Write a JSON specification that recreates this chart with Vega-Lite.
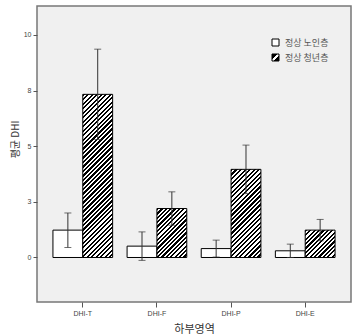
{
  "$schema": "https://vega.github.io/schema/vega-lite/v6.json",
  "autosize": "none",
  "width": 314,
  "height": 296,
  "padding": {"left": 37, "top": 6, "right": 5, "bottom": 34},
  "background": "white",
  "config": {
    "view": {"stroke": "#777", "strokeWidth": 1.5, "fill": "#f0f0f0"},
    "font": "Liberation Sans"
  },
  "data": {"values": [
    {"area": "DHI-T", "group": "정상 노인층", "mean": 1.23, "lo": 0.45, "hi": 2.0},
    {"area": "DHI-T", "group": "정상 청년층", "mean": 7.33, "lo": 5.3, "hi": 9.36},
    {"area": "DHI-F", "group": "정상 노인층", "mean": 0.51, "lo": -0.13, "hi": 1.15},
    {"area": "DHI-F", "group": "정상 청년층", "mean": 2.2, "lo": 1.45, "hi": 2.95},
    {"area": "DHI-P", "group": "정상 노인층", "mean": 0.4, "lo": 0.02, "hi": 0.78},
    {"area": "DHI-P", "group": "정상 청년층", "mean": 3.96, "lo": 2.87, "hi": 5.05},
    {"area": "DHI-E", "group": "정상 노인층", "mean": 0.3, "lo": 0.0, "hi": 0.6},
    {"area": "DHI-E", "group": "정상 청년층", "mean": 1.23, "lo": 0.75, "hi": 1.71}
  ]},
  "encoding": {
    "x": {
      "field": "area", "type": "nominal",
      "sort": ["DHI-T", "DHI-F", "DHI-P", "DHI-E"],
      "scale": {"paddingInner": 0.195, "paddingOuter": 0.215},
      "axis": {
        "labelAngle": 0, "domain": false, "grid": false,
        "tickSize": 5, "tickColor": "#555", "labelFontSize": 7, "labelColor": "#444", "labelPadding": 2,
        "title": "하부영역", "titleFont": "Noto Sans CJK KR", "titleFontSize": 11, "titleFontWeight": "normal",
        "titleColor": "#333", "titleY": 27, "titleBaseline": "middle"
      }
    },
    "xOffset": {
      "field": "group", "type": "nominal",
      "sort": ["정상 노인층", "정상 청년층"],
      "scale": {"paddingInner": 0, "paddingOuter": 0}
    }
  },
  "layer": [
    {
      "mark": {"type": "bar", "stroke": "#000", "strokeWidth": 1},
      "encoding": {
        "y": {
          "field": "mean", "type": "quantitative", "title": "평균 DHI",
          "scale": {"domain": [-2, 11.3], "nice": false, "zero": false},
          "axis": {
            "values": [0, 2.5, 5, 7.5, 10], "format": ".0f", "domain": false, "grid": false,
            "tickSize": 4, "tickColor": "#555", "labelFontSize": 7, "labelColor": "#444", "labelPadding": 2,
            "titleFont": "Noto Sans CJK KR", "titleFontSize": 10, "titleFontWeight": "normal",
            "titleColor": "#333", "titleX": -22, "titleY": 133, "titleBaseline": "middle"
          }
        },
        "y2": {"datum": 0},
        "fill": {
          "field": "group", "type": "nominal",
          "scale": {
            "domain": ["정상 노인층", "정상 청년층"],
            "range": ["#ffffff", "url(#hatchlegend)"]
          },
          "legend": {
            "orient": "none", "legendX": 234, "legendY": 32, "title": null, "padding": 0,
            "labelFont": "Noto Sans CJK KR", "labelFontSize": 9, "labelColor": "#555", "labelOffset": 5,
            "symbolType": "square", "symbolSize": 49, "symbolStrokeColor": "#000", "symbolStrokeWidth": 1,
            "rowPadding": 4
          },
          "condition": [
            {"test": "datum.group === '정상 청년층' && datum.area === 'DHI-T'",
             "value": {"gradient": "linear", "x1": 0, "y1": 0, "x2": 0.2094, "y2": 1.1446, "stops": [
              {"offset":0,"color":"#000"},
              {"offset":0.0116,"color":"#000"},{"offset":0.0116,"color":"#fff"},
              {"offset":0.0233,"color":"#fff"},{"offset":0.0233,"color":"#000"},
              {"offset":0.0349,"color":"#000"},{"offset":0.0349,"color":"#fff"},
              {"offset":0.0465,"color":"#fff"},{"offset":0.0465,"color":"#000"},
              {"offset":0.0581,"color":"#000"},{"offset":0.0581,"color":"#fff"},
              {"offset":0.0698,"color":"#fff"},{"offset":0.0698,"color":"#000"},
              {"offset":0.0814,"color":"#000"},{"offset":0.0814,"color":"#fff"},
              {"offset":0.0930,"color":"#fff"},{"offset":0.0930,"color":"#000"},
              {"offset":0.1047,"color":"#000"},{"offset":0.1047,"color":"#fff"},
              {"offset":0.1163,"color":"#fff"},{"offset":0.1163,"color":"#000"},
              {"offset":0.1279,"color":"#000"},{"offset":0.1279,"color":"#fff"},
              {"offset":0.1395,"color":"#fff"},{"offset":0.1395,"color":"#000"},
              {"offset":0.1512,"color":"#000"},{"offset":0.1512,"color":"#fff"},
              {"offset":0.1628,"color":"#fff"},{"offset":0.1628,"color":"#000"},
              {"offset":0.1744,"color":"#000"},{"offset":0.1744,"color":"#fff"},
              {"offset":0.1860,"color":"#fff"},{"offset":0.1860,"color":"#000"},
              {"offset":0.1977,"color":"#000"},{"offset":0.1977,"color":"#fff"},
              {"offset":0.2093,"color":"#fff"},{"offset":0.2093,"color":"#000"},
              {"offset":0.2209,"color":"#000"},{"offset":0.2209,"color":"#fff"},
              {"offset":0.2326,"color":"#fff"},{"offset":0.2326,"color":"#000"},
              {"offset":0.2442,"color":"#000"},{"offset":0.2442,"color":"#fff"},
              {"offset":0.2558,"color":"#fff"},{"offset":0.2558,"color":"#000"},
              {"offset":0.2674,"color":"#000"},{"offset":0.2674,"color":"#fff"},
              {"offset":0.2791,"color":"#fff"},{"offset":0.2791,"color":"#000"},
              {"offset":0.2907,"color":"#000"},{"offset":0.2907,"color":"#fff"},
              {"offset":0.3023,"color":"#fff"},{"offset":0.3023,"color":"#000"},
              {"offset":0.3140,"color":"#000"},{"offset":0.3140,"color":"#fff"},
              {"offset":0.3256,"color":"#fff"},{"offset":0.3256,"color":"#000"},
              {"offset":0.3372,"color":"#000"},{"offset":0.3372,"color":"#fff"},
              {"offset":0.3488,"color":"#fff"},{"offset":0.3488,"color":"#000"},
              {"offset":0.3605,"color":"#000"},{"offset":0.3605,"color":"#fff"},
              {"offset":0.3721,"color":"#fff"},{"offset":0.3721,"color":"#000"},
              {"offset":0.3837,"color":"#000"},{"offset":0.3837,"color":"#fff"},
              {"offset":0.3953,"color":"#fff"},{"offset":0.3953,"color":"#000"},
              {"offset":0.4070,"color":"#000"},{"offset":0.4070,"color":"#fff"},
              {"offset":0.4186,"color":"#fff"},{"offset":0.4186,"color":"#000"},
              {"offset":0.4302,"color":"#000"},{"offset":0.4302,"color":"#fff"},
              {"offset":0.4419,"color":"#fff"},{"offset":0.4419,"color":"#000"},
              {"offset":0.4535,"color":"#000"},{"offset":0.4535,"color":"#fff"},
              {"offset":0.4651,"color":"#fff"},{"offset":0.4651,"color":"#000"},
              {"offset":0.4767,"color":"#000"},{"offset":0.4767,"color":"#fff"},
              {"offset":0.4884,"color":"#fff"},{"offset":0.4884,"color":"#000"},
              {"offset":0.5000,"color":"#000"},{"offset":0.5000,"color":"#fff"},
              {"offset":0.5116,"color":"#fff"},{"offset":0.5116,"color":"#000"},
              {"offset":0.5233,"color":"#000"},{"offset":0.5233,"color":"#fff"},
              {"offset":0.5349,"color":"#fff"},{"offset":0.5349,"color":"#000"},
              {"offset":0.5465,"color":"#000"},{"offset":0.5465,"color":"#fff"},
              {"offset":0.5581,"color":"#fff"},{"offset":0.5581,"color":"#000"},
              {"offset":0.5698,"color":"#000"},{"offset":0.5698,"color":"#fff"},
              {"offset":0.5814,"color":"#fff"},{"offset":0.5814,"color":"#000"},
              {"offset":0.5930,"color":"#000"},{"offset":0.5930,"color":"#fff"},
              {"offset":0.6047,"color":"#fff"},{"offset":0.6047,"color":"#000"},
              {"offset":0.6163,"color":"#000"},{"offset":0.6163,"color":"#fff"},
              {"offset":0.6279,"color":"#fff"},{"offset":0.6279,"color":"#000"},
              {"offset":0.6395,"color":"#000"},{"offset":0.6395,"color":"#fff"},
              {"offset":0.6512,"color":"#fff"},{"offset":0.6512,"color":"#000"},
              {"offset":0.6628,"color":"#000"},{"offset":0.6628,"color":"#fff"},
              {"offset":0.6744,"color":"#fff"},{"offset":0.6744,"color":"#000"},
              {"offset":0.6860,"color":"#000"},{"offset":0.6860,"color":"#fff"},
              {"offset":0.6977,"color":"#fff"},{"offset":0.6977,"color":"#000"},
              {"offset":0.7093,"color":"#000"},{"offset":0.7093,"color":"#fff"},
              {"offset":0.7209,"color":"#fff"},{"offset":0.7209,"color":"#000"},
              {"offset":0.7326,"color":"#000"},{"offset":0.7326,"color":"#fff"},
              {"offset":0.7442,"color":"#fff"},{"offset":0.7442,"color":"#000"},
              {"offset":0.7558,"color":"#000"},{"offset":0.7558,"color":"#fff"},
              {"offset":0.7674,"color":"#fff"},{"offset":0.7674,"color":"#000"},
              {"offset":0.7791,"color":"#000"},{"offset":0.7791,"color":"#fff"},
              {"offset":0.7907,"color":"#fff"},{"offset":0.7907,"color":"#000"},
              {"offset":0.8023,"color":"#000"},{"offset":0.8023,"color":"#fff"},
              {"offset":0.8140,"color":"#fff"},{"offset":0.8140,"color":"#000"},
              {"offset":0.8256,"color":"#000"},{"offset":0.8256,"color":"#fff"},
              {"offset":0.8372,"color":"#fff"},{"offset":0.8372,"color":"#000"},
              {"offset":0.8488,"color":"#000"},{"offset":0.8488,"color":"#fff"},
              {"offset":0.8605,"color":"#fff"},{"offset":0.8605,"color":"#000"},
              {"offset":0.8721,"color":"#000"},{"offset":0.8721,"color":"#fff"},
              {"offset":0.8837,"color":"#fff"},{"offset":0.8837,"color":"#000"},
              {"offset":0.8953,"color":"#000"},{"offset":0.8953,"color":"#fff"},
              {"offset":0.9070,"color":"#fff"},{"offset":0.9070,"color":"#000"},
              {"offset":0.9186,"color":"#000"},{"offset":0.9186,"color":"#fff"},
              {"offset":0.9302,"color":"#fff"},{"offset":0.9302,"color":"#000"},
              {"offset":0.9419,"color":"#000"},{"offset":0.9419,"color":"#fff"},
              {"offset":0.9535,"color":"#fff"},{"offset":0.9535,"color":"#000"},
              {"offset":0.9651,"color":"#000"},{"offset":0.9651,"color":"#fff"},
              {"offset":0.9767,"color":"#fff"},{"offset":0.9767,"color":"#000"},
              {"offset":0.9884,"color":"#000"},{"offset":0.9884,"color":"#fff"},
              {"offset":1,"color":"#fff"}]}},
            {"test": "datum.group === '정상 청년층' && datum.area === 'DHI-F'",
             "value": {"gradient": "linear", "x1": 0, "y1": 0, "x2": 0.7153, "y2": 1.1735, "stops": [
              {"offset":0,"color":"#000"},
              {"offset":0.0278,"color":"#000"},{"offset":0.0278,"color":"#fff"},
              {"offset":0.0556,"color":"#fff"},{"offset":0.0556,"color":"#000"},
              {"offset":0.0833,"color":"#000"},{"offset":0.0833,"color":"#fff"},
              {"offset":0.1111,"color":"#fff"},{"offset":0.1111,"color":"#000"},
              {"offset":0.1389,"color":"#000"},{"offset":0.1389,"color":"#fff"},
              {"offset":0.1667,"color":"#fff"},{"offset":0.1667,"color":"#000"},
              {"offset":0.1944,"color":"#000"},{"offset":0.1944,"color":"#fff"},
              {"offset":0.2222,"color":"#fff"},{"offset":0.2222,"color":"#000"},
              {"offset":0.25,"color":"#000"},{"offset":0.25,"color":"#fff"},
              {"offset":0.2778,"color":"#fff"},{"offset":0.2778,"color":"#000"},
              {"offset":0.3056,"color":"#000"},{"offset":0.3056,"color":"#fff"},
              {"offset":0.3333,"color":"#fff"},{"offset":0.3333,"color":"#000"},
              {"offset":0.3611,"color":"#000"},{"offset":0.3611,"color":"#fff"},
              {"offset":0.3889,"color":"#fff"},{"offset":0.3889,"color":"#000"},
              {"offset":0.4167,"color":"#000"},{"offset":0.4167,"color":"#fff"},
              {"offset":0.4444,"color":"#fff"},{"offset":0.4444,"color":"#000"},
              {"offset":0.4722,"color":"#000"},{"offset":0.4722,"color":"#fff"},
              {"offset":0.5,"color":"#fff"},{"offset":0.5,"color":"#000"},
              {"offset":0.5278,"color":"#000"},{"offset":0.5278,"color":"#fff"},
              {"offset":0.5556,"color":"#fff"},{"offset":0.5556,"color":"#000"},
              {"offset":0.5833,"color":"#000"},{"offset":0.5833,"color":"#fff"},
              {"offset":0.6111,"color":"#fff"},{"offset":0.6111,"color":"#000"},
              {"offset":0.6389,"color":"#000"},{"offset":0.6389,"color":"#fff"},
              {"offset":0.6667,"color":"#fff"},{"offset":0.6667,"color":"#000"},
              {"offset":0.6944,"color":"#000"},{"offset":0.6944,"color":"#fff"},
              {"offset":0.7222,"color":"#fff"},{"offset":0.7222,"color":"#000"},
              {"offset":0.75,"color":"#000"},{"offset":0.75,"color":"#fff"},
              {"offset":0.7778,"color":"#fff"},{"offset":0.7778,"color":"#000"},
              {"offset":0.8056,"color":"#000"},{"offset":0.8056,"color":"#fff"},
              {"offset":0.8333,"color":"#fff"},{"offset":0.8333,"color":"#000"},
              {"offset":0.8611,"color":"#000"},{"offset":0.8611,"color":"#fff"},
              {"offset":0.8889,"color":"#fff"},{"offset":0.8889,"color":"#000"},
              {"offset":0.9167,"color":"#000"},{"offset":0.9167,"color":"#fff"},
              {"offset":0.9444,"color":"#fff"},{"offset":0.9444,"color":"#000"},
              {"offset":0.9722,"color":"#000"},{"offset":0.9722,"color":"#fff"},
              {"offset":1,"color":"#fff"}]}},
            {"test": "datum.group === '정상 청년층' && datum.area === 'DHI-P'",
             "value": {"gradient": "linear", "x1": 0, "y1": 0, "x2": 0.4067, "y2": 1.2009, "stops": [
              {"offset":0,"color":"#000"},
              {"offset":0.0192,"color":"#000"},{"offset":0.0192,"color":"#fff"},
              {"offset":0.0385,"color":"#fff"},{"offset":0.0385,"color":"#000"},
              {"offset":0.0577,"color":"#000"},{"offset":0.0577,"color":"#fff"},
              {"offset":0.0769,"color":"#fff"},{"offset":0.0769,"color":"#000"},
              {"offset":0.0962,"color":"#000"},{"offset":0.0962,"color":"#fff"},
              {"offset":0.1154,"color":"#fff"},{"offset":0.1154,"color":"#000"},
              {"offset":0.1346,"color":"#000"},{"offset":0.1346,"color":"#fff"},
              {"offset":0.1538,"color":"#fff"},{"offset":0.1538,"color":"#000"},
              {"offset":0.1731,"color":"#000"},{"offset":0.1731,"color":"#fff"},
              {"offset":0.1923,"color":"#fff"},{"offset":0.1923,"color":"#000"},
              {"offset":0.2115,"color":"#000"},{"offset":0.2115,"color":"#fff"},
              {"offset":0.2308,"color":"#fff"},{"offset":0.2308,"color":"#000"},
              {"offset":0.25,"color":"#000"},{"offset":0.25,"color":"#fff"},
              {"offset":0.2692,"color":"#fff"},{"offset":0.2692,"color":"#000"},
              {"offset":0.2885,"color":"#000"},{"offset":0.2885,"color":"#fff"},
              {"offset":0.3077,"color":"#fff"},{"offset":0.3077,"color":"#000"},
              {"offset":0.3269,"color":"#000"},{"offset":0.3269,"color":"#fff"},
              {"offset":0.3462,"color":"#fff"},{"offset":0.3462,"color":"#000"},
              {"offset":0.3654,"color":"#000"},{"offset":0.3654,"color":"#fff"},
              {"offset":0.3846,"color":"#fff"},{"offset":0.3846,"color":"#000"},
              {"offset":0.4038,"color":"#000"},{"offset":0.4038,"color":"#fff"},
              {"offset":0.4231,"color":"#fff"},{"offset":0.4231,"color":"#000"},
              {"offset":0.4423,"color":"#000"},{"offset":0.4423,"color":"#fff"},
              {"offset":0.4615,"color":"#fff"},{"offset":0.4615,"color":"#000"},
              {"offset":0.4808,"color":"#000"},{"offset":0.4808,"color":"#fff"},
              {"offset":0.5,"color":"#fff"},{"offset":0.5,"color":"#000"},
              {"offset":0.5192,"color":"#000"},{"offset":0.5192,"color":"#fff"},
              {"offset":0.5385,"color":"#fff"},{"offset":0.5385,"color":"#000"},
              {"offset":0.5577,"color":"#000"},{"offset":0.5577,"color":"#fff"},
              {"offset":0.5769,"color":"#fff"},{"offset":0.5769,"color":"#000"},
              {"offset":0.5962,"color":"#000"},{"offset":0.5962,"color":"#fff"},
              {"offset":0.6154,"color":"#fff"},{"offset":0.6154,"color":"#000"},
              {"offset":0.6346,"color":"#000"},{"offset":0.6346,"color":"#fff"},
              {"offset":0.6538,"color":"#fff"},{"offset":0.6538,"color":"#000"},
              {"offset":0.6731,"color":"#000"},{"offset":0.6731,"color":"#fff"},
              {"offset":0.6923,"color":"#fff"},{"offset":0.6923,"color":"#000"},
              {"offset":0.7115,"color":"#000"},{"offset":0.7115,"color":"#fff"},
              {"offset":0.7308,"color":"#fff"},{"offset":0.7308,"color":"#000"},
              {"offset":0.75,"color":"#000"},{"offset":0.75,"color":"#fff"},
              {"offset":0.7692,"color":"#fff"},{"offset":0.7692,"color":"#000"},
              {"offset":0.7885,"color":"#000"},{"offset":0.7885,"color":"#fff"},
              {"offset":0.8077,"color":"#fff"},{"offset":0.8077,"color":"#000"},
              {"offset":0.8269,"color":"#000"},{"offset":0.8269,"color":"#fff"},
              {"offset":0.8462,"color":"#fff"},{"offset":0.8462,"color":"#000"},
              {"offset":0.8654,"color":"#000"},{"offset":0.8654,"color":"#fff"},
              {"offset":0.8846,"color":"#fff"},{"offset":0.8846,"color":"#000"},
              {"offset":0.9038,"color":"#000"},{"offset":0.9038,"color":"#fff"},
              {"offset":0.9231,"color":"#fff"},{"offset":0.9231,"color":"#000"},
              {"offset":0.9423,"color":"#000"},{"offset":0.9423,"color":"#fff"},
              {"offset":0.9615,"color":"#fff"},{"offset":0.9615,"color":"#000"},
              {"offset":0.9808,"color":"#000"},{"offset":0.9808,"color":"#fff"},
              {"offset":1,"color":"#fff"}]}},
            {"test": "datum.group === '정상 청년층' && datum.area === 'DHI-E'",
             "value": {"gradient": "linear", "x1": 0, "y1": 0, "x2": 1.0412, "y2": 0.9549, "stops": [
              {"offset":0,"color":"#000"},
              {"offset":0.0385,"color":"#000"},{"offset":0.0385,"color":"#fff"},
              {"offset":0.0769,"color":"#fff"},{"offset":0.0769,"color":"#000"},
              {"offset":0.1154,"color":"#000"},{"offset":0.1154,"color":"#fff"},
              {"offset":0.1538,"color":"#fff"},{"offset":0.1538,"color":"#000"},
              {"offset":0.1923,"color":"#000"},{"offset":0.1923,"color":"#fff"},
              {"offset":0.2308,"color":"#fff"},{"offset":0.2308,"color":"#000"},
              {"offset":0.2692,"color":"#000"},{"offset":0.2692,"color":"#fff"},
              {"offset":0.3077,"color":"#fff"},{"offset":0.3077,"color":"#000"},
              {"offset":0.3462,"color":"#000"},{"offset":0.3462,"color":"#fff"},
              {"offset":0.3846,"color":"#fff"},{"offset":0.3846,"color":"#000"},
              {"offset":0.4231,"color":"#000"},{"offset":0.4231,"color":"#fff"},
              {"offset":0.4615,"color":"#fff"},{"offset":0.4615,"color":"#000"},
              {"offset":0.5,"color":"#000"},{"offset":0.5,"color":"#fff"},
              {"offset":0.5385,"color":"#fff"},{"offset":0.5385,"color":"#000"},
              {"offset":0.5769,"color":"#000"},{"offset":0.5769,"color":"#fff"},
              {"offset":0.6154,"color":"#fff"},{"offset":0.6154,"color":"#000"},
              {"offset":0.6538,"color":"#000"},{"offset":0.6538,"color":"#fff"},
              {"offset":0.6923,"color":"#fff"},{"offset":0.6923,"color":"#000"},
              {"offset":0.7308,"color":"#000"},{"offset":0.7308,"color":"#fff"},
              {"offset":0.7692,"color":"#fff"},{"offset":0.7692,"color":"#000"},
              {"offset":0.8077,"color":"#000"},{"offset":0.8077,"color":"#fff"},
              {"offset":0.8462,"color":"#fff"},{"offset":0.8462,"color":"#000"},
              {"offset":0.8846,"color":"#000"},{"offset":0.8846,"color":"#fff"},
              {"offset":0.9231,"color":"#fff"},{"offset":0.9231,"color":"#000"},
              {"offset":0.9615,"color":"#000"},{"offset":0.9615,"color":"#fff"},
              {"offset":1,"color":"#fff"}]}}
          ]
        }
      }
    },
    {
      "mark": {"type": "rule", "color": "#333", "strokeWidth": 1,
        "fill": {"id": "hatchlegend", "gradient": "linear", "x1": 0, "y1": 0, "x2": 1, "y2": 1, "stops": [
          {"offset": 0, "color": "#000"}, {"offset": 0.36, "color": "#000"}, {"offset": 0.36, "color": "#fff"},
          {"offset": 0.64, "color": "#fff"}, {"offset": 0.64, "color": "#000"}, {"offset": 1, "color": "#000"}]}},
      "encoding": {
        "y": {"field": "lo", "type": "quantitative", "title": "평균 DHI"},
        "y2": {"field": "hi"}
      }
    },
    {
      "mark": {"type": "tick", "color": "#333", "thickness": 1, "size": 7},
      "encoding": {
        "y": {"field": "hi", "type": "quantitative", "title": "평균 DHI"}
      }
    },
    {
      "mark": {"type": "tick", "color": "#333", "thickness": 1, "size": 7},
      "encoding": {
        "y": {"field": "lo", "type": "quantitative", "title": "평균 DHI"}
      }
    }
  ]
}
